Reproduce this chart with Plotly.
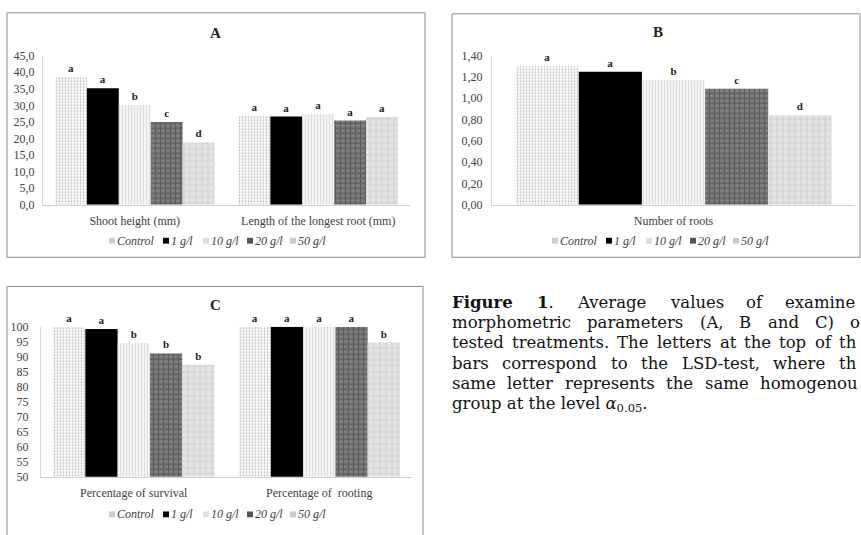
import plotly.graph_objects as go

W, H = 861, 535

# ---------------- data ----------------
series_names = ["Control", "1 g/l", "10 g/l", "20 g/l", "50 g/l"]

A_categories = ["Shoot height (mm)", "Length of the longest root (mm)"]
A_control = [38.5, 26.9]
A_1gl = [35.2, 26.6]
A_10gl = [30.1, 27.4]
A_20gl = [25.0, 25.4]
A_50gl = [18.8, 26.5]
A_letters_control = ["a", "a"]
A_letters_1gl = ["a", "a"]
A_letters_10gl = ["b", "a"]
A_letters_20gl = ["c", "a"]
A_letters_50gl = ["d", "a"]
A_tickvals = [0, 5, 10, 15, 20, 25, 30, 35, 40, 45]
A_ticktext = ["0,0", "5,0", "10,0", "15,0", "20,0", "25,0", "30,0", "35,0", "40,0", "45,0"]

B_categories = ["Number of roots"]
B_control = [1.30]
B_1gl = [1.25]
B_10gl = [1.17]
B_20gl = [1.09]
B_50gl = [0.84]
B_letters_control = ["a"]
B_letters_1gl = ["a"]
B_letters_10gl = ["b"]
B_letters_20gl = ["c"]
B_letters_50gl = ["d"]
B_tickvals = [0, 0.2, 0.4, 0.6, 0.8, 1.0, 1.2, 1.4]
B_ticktext = ["0,00", "0,20", "0,40", "0,60", "0,80", "1,00", "1,20", "1,40"]

C_categories = ["Percentage of survival", "Percentage of  rooting"]
C_control = [100.0, 100.0]
C_1gl = [99.2, 100.0]
C_10gl = [94.6, 100.0]
C_20gl = [91.1, 99.9]
C_50gl = [87.3, 94.7]
C_letters_control = ["a", "a"]
C_letters_1gl = ["a", "a"]
C_letters_10gl = ["b", "a"]
C_letters_20gl = ["b", "a"]
C_letters_50gl = ["b", "b"]
C_tickvals = [50, 55, 60, 65, 70, 75, 80, 85, 90, 95, 100]
C_ticktext = ["50", "55", "60", "65", "70", "75", "80", "85", "90", "95", "100"]

caption_lines = [
    "Figure 1. Average values of examined",
    "morphometric parameters (A, B and C) of",
    "tested treatments. The letters at the top of the",
    "bars correspond to the LSD-test, where the",
    "same letter represents the same homogenous",
]
caption_last = "group at the level <i>α</i><sub>0.05</sub>."

# ---------------- styles ----------------
SERIF = "Liberation Serif"
styles = [
    dict(color="white", pattern=dict(shape=".", fgcolor="#7a7a7a", bgcolor="white", size=3, solidity=0.3)),
    dict(color="black"),
    dict(color="#f2f2f2", pattern=dict(shape="|", fgcolor="#c4c4c4", bgcolor="#f4f4f4", size=3, solidity=0.3)),
    dict(color="#6a6a6a", pattern=dict(shape="+", fgcolor="#3a3a3a", bgcolor="#808080", size=5, solidity=0.45)),
    dict(color="#e0e0e0", pattern=dict(shape="+", fgcolor="#b4b4b4", bgcolor="#e4e4e4", size=6, solidity=0.3)),
]
swatch_colors = ["#cfcfcf", "#000000", "#dedede", "#555555", "#cacaca"]

fig = go.Figure()


def add_panel(categories, values, letters, xa, ya):
    for i, (name, vals, lets) in enumerate(zip(series_names, values, letters)):
        st = styles[i]
        marker = dict(color=st["color"], line=dict(width=0))
        if "pattern" in st:
            marker["pattern"] = st["pattern"]
        fig.add_trace(go.Bar(
            x=categories, y=vals, name=name, marker=marker,
            text=lets, textposition="outside", cliponaxis=False,
            textfont=dict(family=SERIF, size=11, color="#222", weight="bold"),
            xaxis=xa, yaxis=ya, showlegend=False, hoverinfo="skip",
        ))


add_panel(A_categories, [A_control, A_1gl, A_10gl, A_20gl, A_50gl],
          [A_letters_control, A_letters_1gl, A_letters_10gl, A_letters_20gl, A_letters_50gl], "x", "y")
add_panel(B_categories, [B_control, B_1gl, B_10gl, B_20gl, B_50gl],
          [B_letters_control, B_letters_1gl, B_letters_10gl, B_letters_20gl, B_letters_50gl], "x2", "y2")
add_panel(C_categories, [C_control, C_1gl, C_10gl, C_20gl, C_50gl],
          [C_letters_control, C_letters_1gl, C_letters_10gl, C_letters_20gl, C_letters_50gl], "x3", "y3")


def px_x(p):
    return p / W


def px_y(p):
    return 1 - p / H


tickfont = dict(family=SERIF, size=12, color="#404040")


def xaxis(x0, x1, anchor):
    return dict(domain=[px_x(x0), px_x(x1)], anchor=anchor, showline=True, linecolor="#d0d0d0",
                linewidth=1, showgrid=False, zeroline=False, ticks="", tickfont=tickfont,
                ticklabelstandoff=5, fixedrange=True)


def yaxis(y0, y1, anchor, rng, tv, tt, standoff):
    return dict(domain=[px_y(y0), px_y(y1)], anchor=anchor, range=rng, tickvals=tv, ticktext=tt,
                showline=True, linecolor="#d9d9d9", linewidth=1, showgrid=False, zeroline=False,
                ticks="", tickfont=tickfont, ticklabelstandoff=standoff, fixedrange=True)


fig.update_layout(
    width=W, height=H, margin=dict(l=0, r=0, t=0, b=0),
    paper_bgcolor="white", plot_bgcolor="white",
    barmode="group", bargap=0.13, bargroupgap=0, showlegend=False,
    xaxis=xaxis(43, 410, "y"),
    yaxis=yaxis(203, 50, "x", [0, 45], A_tickvals, A_ticktext, 5),
    xaxis2=xaxis(492, 855, "y2"),
    yaxis2=yaxis(203, 50, "x2", [0, 1.4], B_tickvals, B_ticktext, 6),
    xaxis3=xaxis(41, 412, "y3"),
    yaxis3=yaxis(482.3, 328.3, "x3", [50, 100], C_tickvals, C_ticktext, 9),
)

# panel frames
frames = [(7, 6, 425, 257), (452, 7, 860, 257), (7, 287, 423, 545)]
for (x0, y0, x1, y1) in frames:
    fig.add_shape(type="rect", xref="paper", yref="paper",
                  x0=px_x(x0), x1=px_x(x1), y0=px_y(y1), y1=px_y(y0),
                  line=dict(color="#8c8c8c", width=1), fillcolor="rgba(0,0,0,0)", layer="below")

# panel titles
for txt, (x, y) in zip(["A", "B", "C"], [(215, 27), (658, 26), (215, 306)]):
    fig.add_annotation(text="<b>%s</b>" % txt, xref="paper", yref="paper", x=px_x(x), y=px_y(y),
                       xanchor="center", yanchor="middle", showarrow=False,
                       font=dict(family=SERIF, size=15, color="#222"))

# compact legends (one per panel)
leg_swatch_dx = [-108, -54, -14, 30, 73]
for (cx, cy) in [(217, 240), (660, 240), (217, 521)]:
    for name, dx, col in zip(series_names, leg_swatch_dx, swatch_colors):
        sx = cx + dx
        fig.add_shape(type="rect", xref="paper", yref="paper",
                      x0=px_x(sx), x1=px_x(sx + 6), y0=px_y(cy + 3), y1=px_y(cy - 3),
                      line=dict(width=0), fillcolor=col)
        fig.add_annotation(text=name, xref="paper", yref="paper", x=px_x(sx + 6), y=px_y(cy),
                           xanchor="left", yanchor="middle", showarrow=False,
                           font=dict(family=SERIF, size=12, color="#404040", style="italic"))

# caption: justified text (approximate DejaVu Serif advance widths, em)
CAP = "DejaVu Serif"
CAP_SIZE = 16.5
em = {' ': .318, 'a': .596, 'b': .640, 'c': .560, 'd': .640, 'e': .592, 'f': .371, 'g': .640,
      'h': .644, 'i': .320, 'l': .320, 'm': .948, 'n': .644, 'o': .602, 'p': .640, 'r': .478,
      's': .513, 't': .402, 'u': .644, 'v': .565, 'w': .856, 'x': .565, 'y': .565, 'A': .722,
      'B': .735, 'C': .765, 'D': .802, 'F': .683, 'L': .667, 'S': .685, 'T': .668, '(': .390,
      ')': .390, ',': .318, '.': .318, '-': .339, '1': .636}


def wpx(s, bold=False):
    return sum(em.get(ch, .6) for ch in s) * CAP_SIZE * (1.12 if bold else 1.0)


LEFT, RIGHT, EDGE = 452, 866, 860
line_y = [303, 324, 345, 366, 387, 408]
for li, line in enumerate(caption_lines):
    words = line.split()
    widths = []
    for i, w in enumerate(words):
        if li == 0 and i == 0:
            widths.append(wpx(w, True))
        elif li == 0 and i == 1:
            widths.append(wpx("1", True) + wpx("."))
        else:
            widths.append(wpx(w))
    gap = (RIGHT - LEFT - sum(widths)) / (len(words) - 1)
    x = LEFT
    for i, (w, wd) in enumerate(zip(words, widths)):
        vis = w
        while vis and x + wpx(vis) > EDGE:
            vis = vis[:-1]
        if li == 0 and i == 0:
            txt = "<b>%s</b>" % vis
        elif li == 0 and i == 1:
            txt = "<b>1</b>."
        else:
            txt = vis
        if vis:
            fig.add_annotation(text=txt, xref="paper", yref="paper", x=px_x(x - 2), y=px_y(line_y[li]),
                               xanchor="left", yanchor="middle", showarrow=False,
                               font=dict(family=CAP, size=CAP_SIZE, color="#111"))
        x += wd + gap
fig.add_annotation(text=caption_last, xref="paper", yref="paper", x=px_x(LEFT - 2), y=px_y(line_y[5]),
                   xanchor="left", yanchor="middle", showarrow=False,
                   font=dict(family=CAP, size=CAP_SIZE, color="#111"))

fig.write_html("out.html", config={"displayModeBar": False},
               post_script="document.body.style.margin='0';document.body.style.overflow='hidden';")
